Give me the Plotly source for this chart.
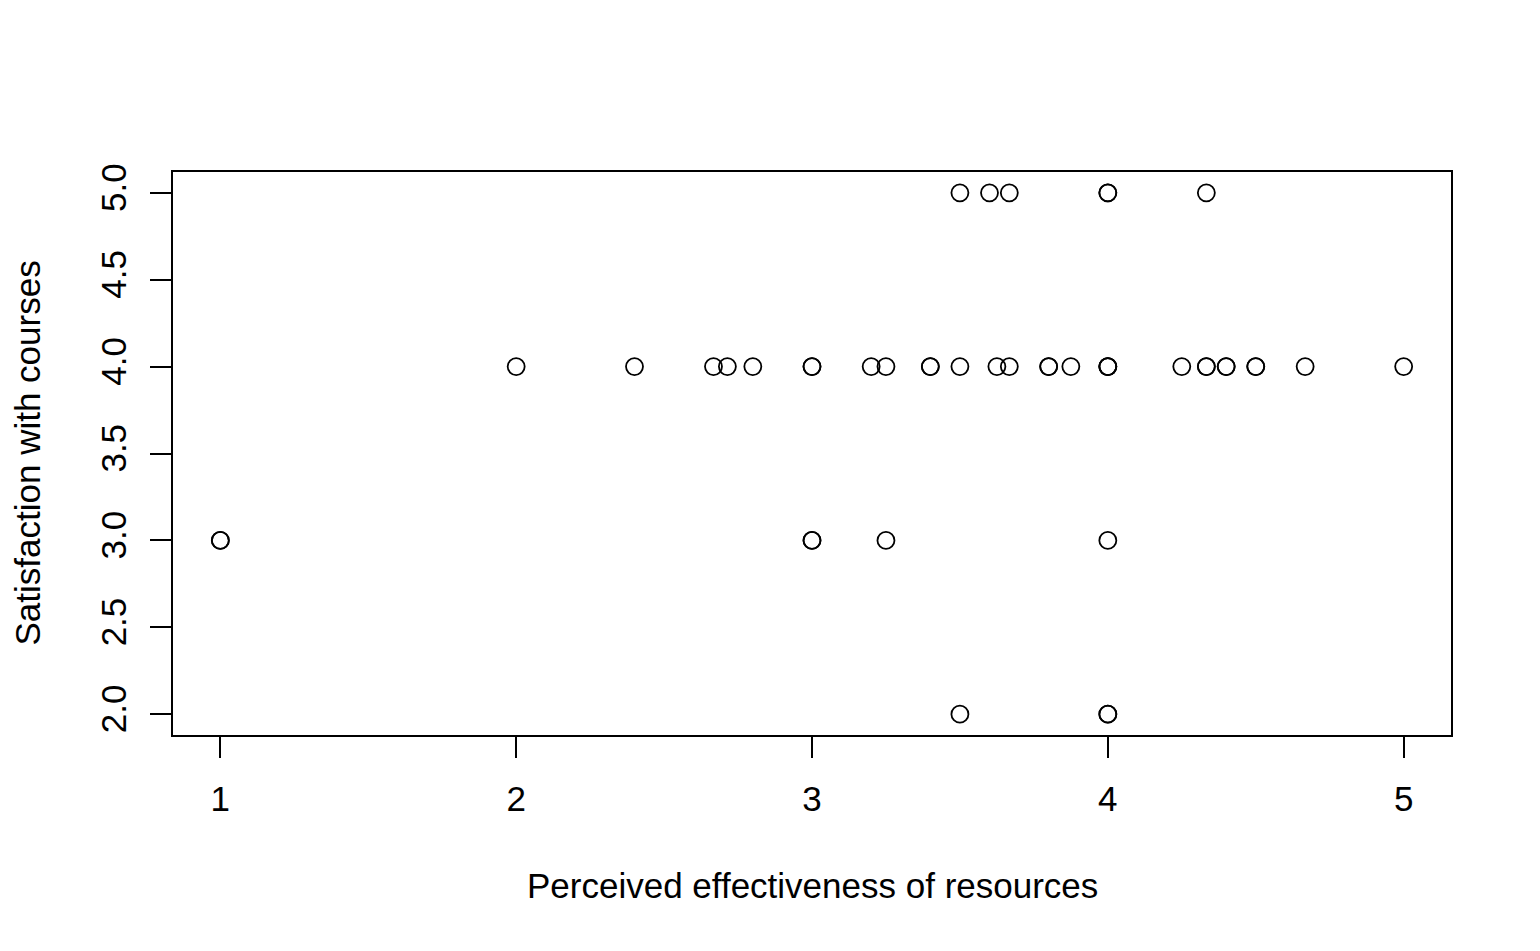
import plotly.graph_objects as go

# Data (duplicates kept where circles overplot)
effectiveness = [3.5, 3.6, 3.667, 4, 4, 4.333,
                 2, 2.4, 2.667, 2.714, 2.8, 3, 3, 3.2, 3.25, 3.4, 3.4, 3.5, 3.625, 3.667,
                 3.8, 3.8, 3.875, 4, 4, 4, 4.25, 4.333, 4.333, 4.4, 4.4, 4.5, 4.5, 4.667, 5,
                 1, 1, 3, 3, 3.25, 4,
                 3.5, 4, 4]
satisfaction = [5, 5, 5, 5, 5, 5,
                4, 4, 4, 4, 4, 4, 4, 4, 4, 4, 4, 4, 4, 4,
                4, 4, 4, 4, 4, 4, 4, 4, 4, 4, 4, 4, 4, 4, 4,
                3, 3, 3, 3, 3, 3,
                2, 2, 2]
x_ticks = [1, 2, 3, 4, 5]
y_ticks = [2.0, 2.5, 3.0, 3.5, 4.0, 4.5, 5.0]
y_tick_labels = ["2.0", "2.5", "3.0", "3.5", "4.0", "4.5", "5.0"]
x_title = "Perceived effectiveness of resources"
y_title = "Satisfaction with courses"

FONT = "Liberation Sans, Arial, Helvetica, sans-serif"
FS = 35

fig = go.Figure()
fig.add_trace(go.Scatter(
    x=effectiveness, y=satisfaction, mode="markers",
    marker=dict(symbol="circle-open", size=17, color="black", line=dict(width=1.8, color="black")),
    showlegend=False, hoverinfo="x+y",
))

fig.update_layout(
    width=1524, height=935,
    paper_bgcolor="white", plot_bgcolor="white",
    margin=dict(l=165, r=81, t=164, b=208),
    font=dict(family=FONT, size=FS, color="black"),
    xaxis=dict(
        range=[0.84, 5.16], tickvals=x_ticks, ticktext=[str(v) for v in x_ticks],
        showline=True, linecolor="black", linewidth=1.5, mirror=True,
        ticks="outside", ticklen=21, tickwidth=1.5, tickcolor="black",
        showgrid=False, zeroline=False, ticklabelstandoff=11,
        tickfont=dict(family=FONT, size=FS, color="black"),
    ),
    yaxis=dict(
        range=[1.88, 5.12], tickvals=y_ticks, ticktext=y_tick_labels,
        showline=True, linecolor="black", linewidth=1.5, mirror=True,
        ticks="outside", ticklen=21, tickwidth=1.5, tickcolor="black",
        showgrid=False, zeroline=False, tickangle=-90, ticklabelstandoff=10,
        tickfont=dict(family=FONT, size=FS, color="black"),
    ),
    annotations=[
        dict(text=x_title, xref="paper", yref="paper", x=0.5, y=0,
             xanchor="center", yanchor="middle", yshift=-150, showarrow=False,
             font=dict(family=FONT, size=FS, color="black")),
        dict(text=y_title, xref="paper", yref="paper", x=0, y=0.5,
             xanchor="center", yanchor="middle", xshift=-146, textangle=-90, showarrow=False,
             font=dict(family=FONT, size=FS, color="black")),
    ],
)

fig.write_html("out.html")
